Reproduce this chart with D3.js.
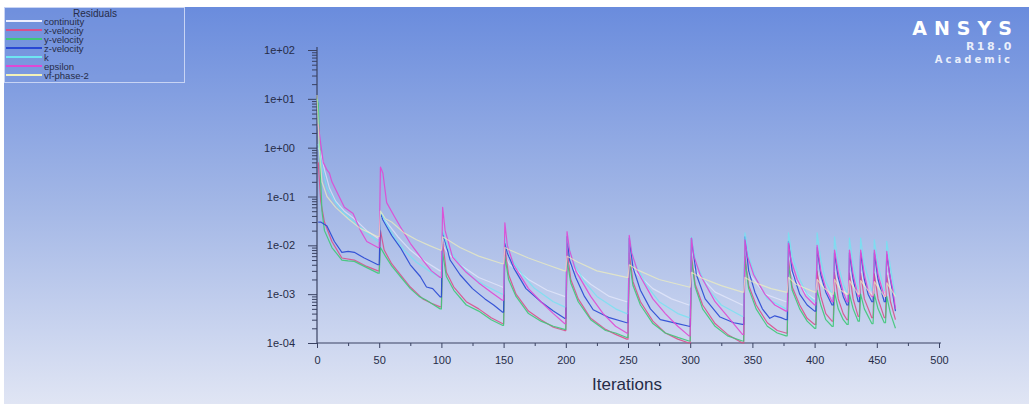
<!DOCTYPE html>
<html>
<head>
<meta charset="utf-8">
<script src="https://cdn.jsdelivr.net/npm/d3@7"></script>
<style>
  html, body { margin: 0; padding: 0; background: #ffffff; }
  svg { display: block; }
</style>
</head>
<body>
<svg id="chart" width="1032" height="411"></svg>
<script>
// ---- residual history: [iteration, scaled residual] ----
const seriesNames = ["continuity", "x-velocity", "y-velocity", "z-velocity", "k", "epsilon", "vf-phase-2"];

const continuity = [
  [1,1.0],[3,0.8],[6,0.35],[10,0.15],[15,0.08],[22,0.05],[30,0.035],[40,0.02],[49,0.014],
  [50,0.014],[51,0.04],[56,0.03],[65,0.015],[75,0.008],[85,0.005],[99,0.003],
  [100,0.003],[101,0.01],[105,0.007],[115,0.004],[130,0.0022],[149,0.0014],
  [150,0.0014],[151,0.006],[155,0.004],[170,0.002],[185,0.0012],[199,0.0009],
  [200,0.0009],[201,0.005],[205,0.0035],[220,0.0016],[235,0.0009],[249,0.0007],
  [250,0.0007],[251,0.004],[255,0.003],[270,0.0013],[285,0.0008],[299,0.0006],
  [300,0.0006],[301,0.004],[305,0.0028],[320,0.0011],[342,0.0006],
  [343,0.0006],[344,0.004],[348,0.0025],[360,0.001],[377,0.0007],
  [378,0.0007],[379,0.004],[383,0.0022],[392,0.0011],[400,0.0008],
  [401,0.0008],[402,0.003],[406,0.0015],[414,0.0009],
  [415,0.0009],[416,0.003],[420,0.0014],[426,0.001],
  [427,0.001],[428,0.003],[431,0.0015],[435,0.001],
  [436,0.001],[437,0.003],[440,0.0015],[446,0.001],
  [447,0.001],[448,0.003],[451,0.0015],[456,0.001],
  [457,0.001],[458,0.0028],[461,0.0014],[465,0.0009]
];

const xVelocity = [
  [1,0.5],[3,0.08],[6,0.03],[12,0.012],[20,0.0055],[30,0.005],[40,0.0037],[49,0.003],
  [50,0.003],[51,0.02],[54,0.008],[60,0.0042],[67,0.0025],[75,0.0014],[85,0.0008],[92,0.00065],[99,0.00055],
  [100,0.00055],[101,0.012],[104,0.0028],[110,0.0014],[120,0.0007],[130,0.0005],[140,0.00033],[149,0.00025],
  [150,0.00025],[151,0.009],[154,0.0025],[160,0.001],[170,0.00045],[180,0.0003],[190,0.00021],[199,0.00018],
  [200,0.00018],[201,0.008],[204,0.002],[210,0.0008],[220,0.00032],[232,0.00019],[240,0.00015],[249,0.00012],
  [250,0.00012],[251,0.007],[254,0.0018],[260,0.0007],[270,0.00028],[280,0.00016],[290,0.00012],[299,0.0001],
  [300,0.0001],[301,0.006],[304,0.0016],[310,0.0006],[320,0.00025],[330,0.00015],[342,0.0001],
  [343,0.0001],[344,0.006],[347,0.0015],[353,0.0006],[362,0.00026],[370,0.00018],[377,0.00016],
  [378,0.00016],[379,0.005],[382,0.0014],[388,0.0006],[394,0.00032],[400,0.00024],
  [401,0.00024],[402,0.003],[405,0.0009],[409,0.0004],[414,0.00028],
  [415,0.00028],[416,0.0028],[419,0.0008],[423,0.0004],[426,0.0003],
  [427,0.0003],[428,0.0027],[431,0.0008],[435,0.00035],
  [436,0.00035],[437,0.0027],[440,0.0008],[446,0.00033],
  [447,0.00033],[448,0.0026],[451,0.0008],[456,0.00033],
  [457,0.00033],[458,0.0025],[461,0.0007],[465,0.0003]
];

const yVelocity = [
  [0,10],[1,8],[2,1.5],[3,0.2],[4,0.05],[6,0.02],[12,0.009],[20,0.005],[25,0.0048],[30,0.0047],[40,0.0035],[49,0.0027],
  [50,0.0027],[51,0.009],[55,0.006],[60,0.0038],[67,0.0023],[75,0.0013],[82,0.0009],[88,0.00075],[94,0.0006],[99,0.0005],
  [100,0.0005],[101,0.007],[104,0.0023],[110,0.0012],[120,0.0006],[130,0.00045],[140,0.0003],[149,0.00023],
  [150,0.00023],[151,0.006],[154,0.002],[160,0.0009],[170,0.0004],[180,0.00028],[190,0.00022],[199,0.00019],
  [200,0.00019],[201,0.005],[204,0.0017],[210,0.0007],[220,0.0003],[232,0.00018],[240,0.00016],[249,0.00013],
  [250,0.00013],[251,0.005],[254,0.0015],[260,0.0006],[270,0.00025],[280,0.00016],[290,0.00013],[299,0.00011],
  [300,0.00011],[301,0.005],[304,0.0014],[310,0.0005],[320,0.00022],[330,0.00014],[342,0.00011],
  [343,0.00011],[344,0.005],[347,0.0013],[353,0.0005],[362,0.00022],[370,0.00016],[377,0.00014],
  [378,0.00014],[379,0.004],[382,0.0012],[388,0.0005],[394,0.00028],[400,0.0002],
  [401,0.0002],[402,0.0012],[405,0.0006],[409,0.0003],[414,0.00022],
  [415,0.00022],[416,0.0011],[419,0.0005],[423,0.0003],[426,0.00024],
  [427,0.00024],[428,0.001],[431,0.0005],[435,0.00028],
  [436,0.00028],[437,0.001],[440,0.0005],[446,0.00025],
  [447,0.00025],[448,0.001],[451,0.0005],[456,0.00026],
  [457,0.00026],[458,0.0009],[461,0.0004],[465,0.0002]
];

const zVelocity = [
  [1,0.03],[3,0.03],[8,0.025],[14,0.012],[20,0.0072],[25,0.0075],[30,0.0072],[38,0.0055],[49,0.004],
  [50,0.004],[51,0.046],[53,0.033],[60,0.016],[67,0.009],[75,0.004],[83,0.0023],[88,0.0014],[93,0.0013],[99,0.00088],
  [100,0.00088],[101,0.018],[103,0.012],[107,0.005],[115,0.0025],[125,0.0013],[135,0.0008],[142,0.0006],[149,0.00043],
  [150,0.00043],[151,0.011],[153,0.007],[158,0.0035],[168,0.0013],[180,0.0007],[190,0.00045],[199,0.00032],
  [200,0.00032],[201,0.015],[203,0.005],[208,0.0022],[215,0.0009],[222,0.00048],[235,0.00033],[249,0.00026],
  [250,0.00026],[251,0.014],[254,0.0035],[260,0.0012],[268,0.0005],[276,0.0003],[290,0.00025],[299,0.00022],
  [300,0.00022],[301,0.014],[305,0.0025],[312,0.0008],[324,0.00034],[335,0.00026],[342,0.00024],
  [343,0.00024],[344,0.015],[347,0.003],[352,0.0011],[358,0.0005],[364,0.00032],[368,0.00036],[373,0.00033],[377,0.0003],
  [378,0.0003],[379,0.012],[382,0.003],[388,0.001],[394,0.0006],[400,0.00045],
  [401,0.00045],[402,0.009],[405,0.0025],[409,0.0011],[414,0.0006],
  [415,0.0006],[416,0.007],[419,0.0022],[423,0.0009],[426,0.0006],
  [427,0.0006],[428,0.007],[431,0.002],[435,0.0007],
  [436,0.0007],[437,0.007],[440,0.002],[443,0.001],[446,0.0007],
  [447,0.0007],[448,0.007],[451,0.002],[456,0.0007],
  [457,0.0007],[458,0.0065],[461,0.002],[465,0.00045]
];

const kResidual = [
  [1,1.2],[4,0.4],[8,0.15],[14,0.08],[20,0.05],[30,0.03],[40,0.018],[49,0.012],
  [50,0.012],[51,0.05],[55,0.03],[62,0.015],[70,0.008],[80,0.0045],[90,0.003],[99,0.0022],
  [100,0.0022],[101,0.02],[105,0.009],[115,0.004],[125,0.0022],[135,0.0015],[149,0.001],
  [150,0.001],[151,0.015],[155,0.006],[165,0.0025],[175,0.0013],[190,0.0007],[199,0.00055],
  [200,0.00055],[201,0.015],[205,0.005],[215,0.0018],[225,0.0009],[240,0.0005],[249,0.0004],
  [250,0.0004],[251,0.015],[255,0.0045],[265,0.0015],[275,0.0007],[290,0.0004],[299,0.00033],
  [300,0.00033],[301,0.015],[305,0.004],[315,0.0012],[325,0.0006],[342,0.00035],
  [343,0.00035],[344,0.018],[347,0.006],[353,0.002],[362,0.0008],[377,0.0005],
  [378,0.0005],[379,0.018],[382,0.006],[388,0.002],[394,0.001],[400,0.0007],
  [401,0.0007],[402,0.018],[405,0.005],[409,0.0018],[414,0.001],
  [415,0.001],[416,0.015],[419,0.004],[423,0.0016],[426,0.0011],
  [427,0.0011],[428,0.014],[431,0.004],[435,0.0013],
  [436,0.0013],[437,0.014],[440,0.004],[446,0.0012],
  [447,0.0012],[448,0.013],[451,0.004],[456,0.0012],
  [457,0.0012],[458,0.012],[461,0.0035],[465,0.0009]
];

const epsilon = [
  [1,3.0],[3,1.2],[5,0.5],[8,0.35],[10,0.3],[12,0.2],[17,0.11],[22,0.06],[29,0.045],[35,0.02],[40,0.012],[49,0.009],
  [50,0.009],[51,0.4],[53,0.3],[56,0.075],[62,0.04],[67,0.024],[75,0.011],[85,0.005],[92,0.003],[99,0.0022],
  [100,0.0022],[101,0.06],[103,0.02],[109,0.0057],[120,0.0028],[130,0.0017],[140,0.0011],[149,0.00075],
  [150,0.00075],[151,0.029],[153,0.01],[158,0.004],[170,0.0013],[180,0.0007],[190,0.0004],[199,0.00025],
  [200,0.00025],[201,0.019],[203,0.008],[208,0.003],[220,0.0009],[230,0.0004],[240,0.00022],[249,0.00016],
  [250,0.00016],[251,0.016],[253,0.007],[258,0.0028],[270,0.0008],[280,0.0004],[290,0.00022],[299,0.00014],
  [300,0.00014],[301,0.014],[303,0.006],[308,0.0025],[320,0.0007],[330,0.00035],[342,0.00015],
  [343,0.00015],[344,0.013],[346,0.006],[351,0.0025],[360,0.001],[368,0.0006],[377,0.00045],
  [378,0.00045],[379,0.011],[381,0.005],[386,0.002],[393,0.0009],[400,0.0006],
  [401,0.0006],[402,0.01],[405,0.003],[409,0.0013],[414,0.0007],
  [415,0.0007],[416,0.008],[419,0.0028],[423,0.0011],[426,0.0007],
  [427,0.0007],[428,0.008],[431,0.0025],[435,0.0009],
  [436,0.0009],[437,0.008],[440,0.0025],[443,0.0012],[446,0.0009],
  [447,0.0009],[448,0.008],[451,0.0025],[456,0.0009],
  [457,0.0009],[458,0.0075],[460,0.0028],[463,0.0012],[465,0.0005]
];

const vfPhase2 = [
  [0,12],[1,3],[2,0.8],[4,0.2],[8,0.1],[15,0.06],[25,0.035],[35,0.022],[49,0.015],
  [50,0.015],[51,0.05],[55,0.035],[60,0.03],[70,0.018],[80,0.013],[90,0.01],[99,0.008],
  [100,0.008],[101,0.015],[105,0.013],[115,0.009],[130,0.006],[149,0.0042],
  [150,0.0042],[151,0.009],[155,0.008],[170,0.0055],[185,0.004],[199,0.003],
  [200,0.003],[201,0.006],[210,0.0045],[225,0.003],[249,0.0022],
  [250,0.0022],[251,0.004],[258,0.0031],[275,0.002],[299,0.0014],
  [300,0.0014],[301,0.0028],[310,0.0021],[325,0.0015],[342,0.0011],
  [343,0.0011],[344,0.0022],[350,0.0018],[365,0.0013],[377,0.0011],
  [378,0.0011],[379,0.0022],[385,0.0016],[400,0.0011],
  [401,0.0011],[402,0.002],[408,0.0013],[414,0.001],
  [415,0.001],[416,0.002],[421,0.0012],[426,0.001],
  [427,0.001],[428,0.0019],[435,0.001],
  [436,0.001],[437,0.0019],[446,0.00095],
  [447,0.00095],[448,0.0018],[456,0.0009],
  [457,0.0009],[458,0.0017],[465,0.0009]
];

const yTickValues = [1e-4, 1e-3, 1e-2, 1e-1, 1e0, 1e1, 1e2];
const yTickLabels = ["1e-04", "1e-03", "1e-02", "1e-01", "1e+00", "1e+01", "1e+02"];
const xTickValues = [0, 50, 100, 150, 200, 250, 300, 350, 400, 450, 500];
const xTickLabels = ["0", "50", "100", "150", "200", "250", "300", "350", "400", "450", "500"];
const xTitle = "Iterations";
const legendTitle = "Residuals";

// ---- styling ----
const seriesData = [continuity, xVelocity, yVelocity, zVelocity, kResidual, epsilon, vfPhase2];
const seriesColors = ["#eef0ff", "#d8508c", "#3ec878", "#2848d4", "#6ee6f2", "#e048d4", "#f4f2b8"];
const seriesOpacity = [0.6, 0.9, 0.9, 0.9, 0.75, 0.9, 0.65];

const svg = d3.select("#chart");
const W = 1032, H = 411;

// background panel with vertical gradient
const defs = svg.append("defs");
const grad = defs.append("linearGradient")
  .attr("id", "bg").attr("x1", 0).attr("y1", 0).attr("x2", 0).attr("y2", 1);
grad.append("stop").attr("offset", "0%").attr("stop-color", "#6a8cdd");
grad.append("stop").attr("offset", "50%").attr("stop-color", "#a3b7e6");
grad.append("stop").attr("offset", "100%").attr("stop-color", "#e0e5f4");

svg.append("rect").attr("x", 0).attr("y", 0).attr("width", W).attr("height", H).attr("fill", "#ffffff");
svg.append("rect").attr("x", 4).attr("y", 7).attr("width", 1025).attr("height", 397).attr("fill", "url(#bg)");

// scales
const x = d3.scaleLinear().domain([0, 500]).range([317, 939]);
const y = d3.scaleLog().domain([1e-4, 1e2]).range([343, 50]);

const axisColor = "#3a4262";
const textColor = "#262c48";
const font = "'Liberation Sans', Arial, sans-serif";

// y minor ticks
const yMinor = [];
for (let e = -4; e < 2; e++) for (let m = 2; m <= 9; m++) yMinor.push(m * Math.pow(10, e));

const gyMinor = svg.append("g").attr("transform", "translate(317,0)")
  .call(d3.axisLeft(y).tickValues(yMinor).tickSize(5).tickFormat(""));
const gy = svg.append("g").attr("transform", "translate(317,0)")
  .call(d3.axisLeft(y).tickValues(yTickValues).tickSize(9).tickPadding(13)
    .tickFormat((d, i) => yTickLabels[i]));

// x minor ticks
const xMinor = d3.range(25, 500, 50);
const gxMinor = svg.append("g").attr("transform", "translate(0,343)")
  .call(d3.axisBottom(x).tickValues(xMinor).tickSize(3).tickFormat(""));
const gx = svg.append("g").attr("transform", "translate(0,343)")
  .call(d3.axisBottom(x).tickValues(xTickValues).tickSize(5).tickPadding(8)
    .tickFormat((d, i) => xTickLabels[i]));

[gy, gx, gyMinor, gxMinor].forEach(g => {
  g.selectAll("path.domain").attr("stroke", axisColor).attr("stroke-width", 1.2);
  g.selectAll(".tick line").attr("stroke", axisColor);
  g.selectAll(".tick text").attr("fill", textColor).style("font-family", font).style("font-size", "11px");
});
gyMinor.select("path.domain").remove();
gxMinor.select("path.domain").remove();
gx.select("path.domain").attr("d", "M317,0H941");
gy.select("path.domain").attr("d", "M0,343V47");

// axis title
svg.append("text")
  .attr("x", 627).attr("y", 390)
  .attr("text-anchor", "middle")
  .attr("fill", textColor)
  .style("font-family", font).style("font-size", "17px")
  .text(xTitle);

// residual curves
const line = d3.line()
  .x(d => x(d[0]))
  .y(d => y(Math.max(d[1], 1e-4)));

const plot = svg.append("g");
seriesData.forEach((data, i) => {
  plot.append("path")
    .datum(data)
    .attr("d", line)
    .attr("fill", "none")
    .attr("stroke", seriesColors[i])
    .attr("stroke-width", 1.2)
    .attr("stroke-opacity", seriesOpacity[i])
    .attr("stroke-linejoin", "round");
});

// legend
const lg = svg.append("g");
lg.append("rect")
  .attr("x", 4.5).attr("y", 7.5).attr("width", 180).attr("height", 75)
  .attr("fill", "#7c99de").attr("fill-opacity", 0.35)
  .attr("stroke", "#c8d4f4").attr("stroke-width", 1);
lg.append("text")
  .attr("x", 95).attr("y", 17)
  .attr("text-anchor", "middle")
  .attr("fill", textColor)
  .style("font-family", font).style("font-size", "10px")
  .text(legendTitle);
seriesNames.forEach((name, i) => {
  const yy = 23 + i * 9;
  lg.append("line")
    .attr("x1", 6).attr("x2", 42).attr("y1", yy - 2).attr("y2", yy - 2)
    .attr("stroke", seriesColors[i]).attr("stroke-width", 2);
  lg.append("text")
    .attr("x", 44).attr("y", yy + 2)
    .attr("fill", textColor)
    .style("font-family", font).style("font-size", "9.5px")
    .text(name);
});

// product badge
const badge = svg.append("g").attr("fill", "#ffffff");
badge.append("text")
  .attr("x", 1019).attr("y", 35).attr("text-anchor", "end")
  .style("font-family", "'DejaVu Sans', sans-serif").style("font-weight", "bold")
  .style("font-size", "19px").style("letter-spacing", "7px")
  .text("ANSYS");
badge.append("text")
  .attr("x", 1014).attr("y", 50).attr("text-anchor", "end")
  .attr("fill-opacity", 0.85)
  .style("font-family", "'DejaVu Sans', sans-serif").style("font-weight", "bold")
  .style("font-size", "11px").style("letter-spacing", "2.5px")
  .text("R18.0");
badge.append("text")
  .attr("x", 1013).attr("y", 63).attr("text-anchor", "end")
  .attr("fill-opacity", 0.85)
  .style("font-family", "'DejaVu Sans', sans-serif").style("font-weight", "bold")
  .style("font-size", "10px").style("letter-spacing", "3px")
  .text("Academic");
</script>
</body>
</html>
